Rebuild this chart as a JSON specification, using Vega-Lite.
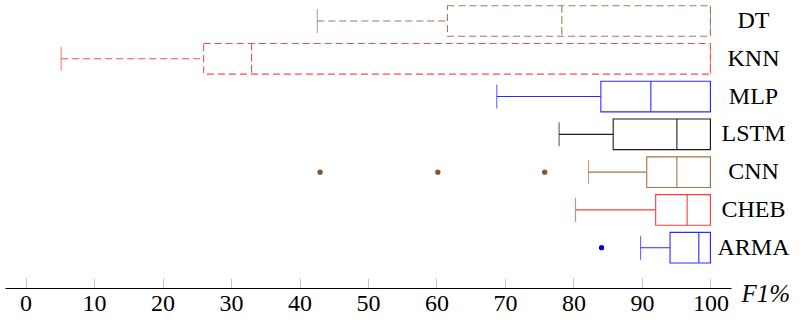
{
  "$schema": "https://vega.github.io/schema/vega-lite/v6.json",
  "width": 726,
  "height": 288,
  "autosize": {"type": "none"},
  "padding": {"left": 5, "top": 0, "right": 75, "bottom": 38},
  "background": "white",
  "config": {"view": {"stroke": null}, "font": "Liberation Serif"},
  "datasets": {
    "stats": [
      {"model": "DT", "min": 42.6, "q1": 61.6, "median": 78.3, "q3": 100, "max": 100},
      {"model": "KNN", "min": 5.2, "q1": 26.0, "median": 33.0, "q3": 100, "max": 100},
      {"model": "MLP", "min": 68.8, "q1": 84.0, "median": 91.3, "q3": 100, "max": 100},
      {"model": "LSTM", "min": 77.9, "q1": 85.8, "median": 95.1, "q3": 100, "max": 100},
      {"model": "CNN", "min": 82.2, "q1": 90.7, "median": 95.1, "q3": 100, "max": 100},
      {"model": "CHEB", "min": 80.3, "q1": 92.0, "median": 96.6, "q3": 100, "max": 100},
      {"model": "ARMA", "min": 89.8, "q1": 94.1, "median": 98.3, "q3": 100, "max": 100}
    ],
    "outliers": [
      {"model": "CNN", "value": 43.0},
      {"model": "CNN", "value": 60.2},
      {"model": "CNN", "value": 75.8},
      {"model": "ARMA", "value": 84.1}
    ]
  },
  "encoding": {
    "y": {
      "field": "model",
      "type": "nominal",
      "scale": {
        "domain": ["DT", "KNN", "MLP", "LSTM", "CNN", "CHEB", "ARMA"],
        "range": [5.7, 263],
        "paddingInner": 0.19,
        "paddingOuter": 0
      },
      "axis": {
        "orient": "right",
        "title": null,
        "domain": false,
        "ticks": false,
        "labelAlign": "center",
        "labelBaseline": "middle",
        "labelPadding": 22,
        "labelFont": "Liberation Serif",
        "labelFontSize": 24,
        "labelColor": "black"
      }
    },
    "stroke": {
      "field": "model",
      "type": "nominal",
      "scale": {
        "domain": ["DT", "KNN", "MLP", "LSTM", "CNN", "CHEB", "ARMA"],
        "range": ["#9a7a5c", "#ff4a4a", "#2a2aff", "#1a1a1a", "#a47443", "#ff3d3d", "#2a2aff"]
      },
      "legend": null
    },
    "strokeDash": {
      "field": "model",
      "type": "nominal",
      "scale": {
        "domain": ["DT", "KNN", "MLP", "LSTM", "CNN", "CHEB", "ARMA"],
        "range": [[7, 4], [7, 4], [1, 0], [1, 0], [1, 0], [1, 0], [1, 0]]
      },
      "legend": null
    }
  },
  "layer": [
    {
      "data": {"name": "stats"},
      "mark": {"type": "rule", "strokeWidth": 1.1},
      "encoding": {
        "x": {
          "field": "min",
          "type": "quantitative",
          "scale": {"domain": [-3, 103], "nice": false, "zero": false},
          "axis": {
            "values": [0, 10, 20, 30, 40, 50, 60, 70, 80, 90, 100],
            "grid": false,
            "domainColor": "black",
            "domainWidth": 1.2,
            "tickColor": "#c4c4c4",
            "tickSize": -10,
            "tickWidth": 1,
            "labelFont": "Liberation Serif",
            "labelFontSize": 24,
            "labelColor": "black",
            "labelBaseline": "alphabetic",
            "labelPadding": 32,
            "title": "F1%",
            "titleFont": "Liberation Serif",
            "titleFontSize": 25,
            "titleFontStyle": "italic",
            "titleFontWeight": "normal",
            "titleColor": "black",
            "titleAlign": "left",
            "titleBaseline": "alphabetic",
            "titleAngle": 0,
            "titleX": 736,
            "titleY": 13
          }
        },
        "x2": {"field": "q1"}
      }
    },
    {
      "data": {"name": "stats"},
      "mark": {"type": "tick", "size": 24, "thickness": 1.1},
      "encoding": {
        "x": {"field": "min", "type": "quantitative"},
        "color": {
          "field": "model",
          "type": "nominal",
          "scale": {
            "domain": ["DT", "KNN", "MLP", "LSTM", "CNN", "CHEB", "ARMA"],
            "range": ["#9a7a5c", "#ff4a4a", "#2a2aff", "#1a1a1a", "#a47443", "#ff3d3d", "#2a2aff"]
          },
          "legend": null
        },
        "stroke": {"value": null},
        "strokeDash": {"value": [1, 0]}
      }
    },
    {
      "data": {"name": "stats"},
      "mark": {"type": "bar", "fill": "white", "strokeWidth": 1.1},
      "encoding": {
        "x": {"field": "q1", "type": "quantitative"},
        "x2": {"field": "q3"}
      }
    },
    {
      "data": {"name": "stats"},
      "mark": {"type": "bar", "fill": null, "fillOpacity": 0, "strokeWidth": 1.1},
      "encoding": {
        "x": {"field": "median", "type": "quantitative"},
        "x2": {"field": "median"}
      }
    },
    {
      "data": {"name": "stats"},
      "mark": {"type": "tick", "size": 30.6, "thickness": 1.1},
      "encoding": {
        "x": {"field": "max", "type": "quantitative"},
        "color": {
          "field": "model",
          "type": "nominal",
          "scale": {
            "domain": ["DT", "KNN", "MLP", "LSTM", "CNN", "CHEB", "ARMA"],
            "range": ["#9a7a5c", "#ff4a4a", "#2a2aff", "#1a1a1a", "#a47443", "#ff3d3d", "#2a2aff"]
          },
          "legend": null
        },
        "stroke": {"value": null},
        "strokeDash": {"value": [1, 0]}
      }
    },
    {
      "data": {"name": "outliers"},
      "mark": {"type": "point", "filled": true, "size": 28, "opacity": 1, "strokeWidth": 0},
      "encoding": {
        "x": {"field": "value", "type": "quantitative"},
        "fill": {
          "field": "model",
          "type": "nominal",
          "scale": {"domain": ["CNN", "ARMA"], "range": ["#85562b", "#0000e0"]},
          "legend": null
        },
        "strokeDash": {"value": [1, 0]}
      }
    }
  ]
}
